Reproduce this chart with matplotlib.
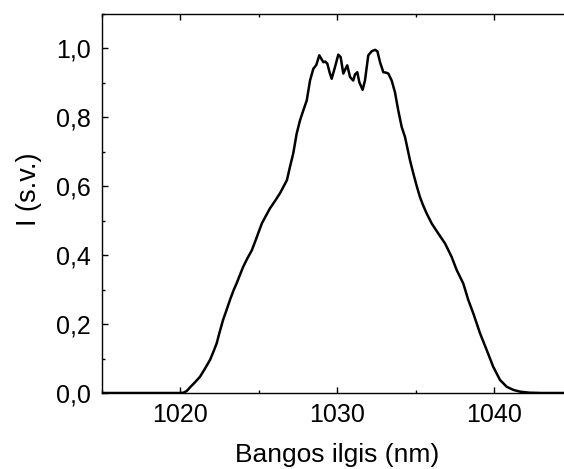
import matplotlib
matplotlib.use("Agg")
import matplotlib.pyplot as plt
from matplotlib.ticker import MultipleLocator, FuncFormatter

# spektras, nuskaitytas nuo paveikslo
wavelength = [1015.0, 1017.0, 1019.0, 1020.0, 1020.2, 1020.4, 1020.6, 1020.9, 1021.24, 1021.55,
              1021.88, 1022.1, 1022.31, 1022.5, 1022.71, 1022.95, 1023.15, 1023.38, 1023.58,
              1023.78, 1023.98, 1024.25, 1024.54, 1024.8, 1025.0, 1025.19, 1025.45, 1025.7,
              1026.0, 1026.34, 1026.55, 1026.78, 1026.97, 1027.18, 1027.4, 1027.61, 1027.82,
              1028.04, 1028.25, 1028.46, 1028.65, 1028.84, 1028.97, 1029.1, 1029.22, 1029.35,
              1029.5, 1029.63, 1029.84, 1030.05, 1030.2, 1030.37, 1030.5, 1030.62, 1030.8,
              1031.0, 1031.12, 1031.26, 1031.39, 1031.6, 1031.75, 1031.96, 1032.18, 1032.39,
              1032.54, 1032.71, 1032.92, 1033.08, 1033.24, 1033.45, 1033.66, 1033.87, 1034.09,
              1034.3, 1034.62, 1034.83, 1035.05, 1035.25, 1035.45, 1035.68, 1036.0, 1036.42,
              1036.85, 1037.27, 1037.59, 1038.01, 1038.33, 1038.65, 1039.08, 1039.5, 1039.92,
              1040.35, 1040.78, 1041.2, 1041.62, 1042.2, 1043.0, 1045.0]
intensity = [0.0, 0.0, 0.0, 0.0, 0.001, 0.006, 0.016, 0.03, 0.047, 0.07,
             0.096, 0.12, 0.145, 0.178, 0.212, 0.243, 0.27, 0.298, 0.319,
             0.342, 0.365, 0.39, 0.414, 0.445, 0.47, 0.493, 0.515, 0.536,
             0.556, 0.58, 0.598, 0.618, 0.656, 0.695, 0.753, 0.791, 0.82,
             0.849, 0.907, 0.941, 0.952, 0.98, 0.97, 0.96, 0.962, 0.956,
             0.93, 0.912, 0.946, 0.982, 0.975, 0.927, 0.94, 0.951, 0.917,
             0.907, 0.925, 0.931, 0.902, 0.88, 0.907, 0.98, 0.992, 0.996,
             0.992, 0.96, 0.931, 0.93, 0.927, 0.907, 0.873, 0.82, 0.772,
             0.743, 0.675, 0.637, 0.6, 0.569, 0.545, 0.521, 0.492, 0.463,
             0.434, 0.395, 0.357, 0.318, 0.27, 0.231, 0.173, 0.125, 0.076,
             0.038, 0.018, 0.009, 0.004, 0.001, 0.0, 0.0]

plt.rcParams['font.family'] = ['Liberation Sans', 'DejaVu Sans']

fig = plt.figure(figsize=(5.64, 4.69), dpi=100)
ax = fig.add_axes([102 / 564, 76 / 469, 471 / 564, 379 / 469])

ax.plot(wavelength, intensity, color='black', linewidth=1.8)

ax.set_xlim(1015, 1045)
ax.set_ylim(0, 1.1)
ax.xaxis.set_major_locator(MultipleLocator(10))
ax.xaxis.set_minor_locator(MultipleLocator(5))
ax.yaxis.set_major_locator(MultipleLocator(0.2))
ax.yaxis.set_minor_locator(MultipleLocator(0.1))
ax.yaxis.set_major_formatter(FuncFormatter(lambda v, p: f"{v:.1f}".replace('.', ',')))

ax.tick_params(which='both', direction='in', top=True, right=True, width=1.0)
ax.tick_params(which='major', length=4.5, labelsize=18)
ax.tick_params(which='minor', length=2.3)
ax.tick_params(axis='y', pad=8)
ax.tick_params(axis='x', pad=7)
for s in ax.spines.values():
    s.set_linewidth(1.0)

ax.set_xlabel('Bangos ilgis (nm)', fontsize=19, labelpad=12)
ax.set_ylabel('I (s.v.)', fontsize=19.5)
ax.yaxis.set_label_coords(-0.128, 0.538)

fig.savefig('out.png', dpi=100)
